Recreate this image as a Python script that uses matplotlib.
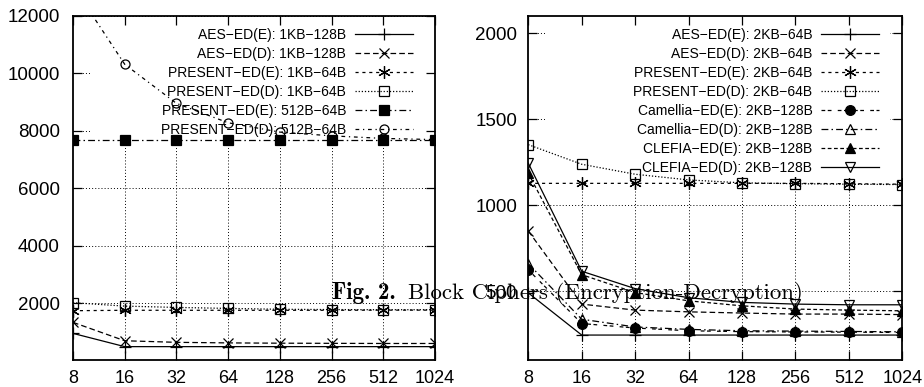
import matplotlib
matplotlib.use("Agg")
import matplotlib.pyplot as plt
from matplotlib.patches import Rectangle
import numpy as np

# ---------------- data ----------------
block_sizes = [8, 16, 32, 64, 128, 256, 512, 1024]
tick_labels = ["8", "16", "32", "64", "128", "256", "512", "1024"]

# left panel
aes_e_1kb = [956, 495, 495, 495, 495, 495, 495, 495]
aes_d_1kb = [1340, 700, 645, 625, 615, 610, 605, 605]
present_e_1kb = [1745, 1760, 1760, 1760, 1760, 1760, 1765, 1765]
present_d_1kb = [2025, 1905, 1860, 1825, 1795, 1785, 1780, 1780]
present_e_512 = [7680, 7680, 7680, 7680, 7680, 7680, 7680, 7680]
present_d_512 = [13050, 10320, 8960, 8285, 7960, 7830, 7740, 7700]

left_labels = ["AES−ED(E): 1KB−128B", "AES−ED(D): 1KB−128B",
               "PRESENT−ED(E): 1KB−64B", "PRESENT−ED(D): 1KB−64B",
               "PRESENT−ED(E): 512B−64B", "PRESENT−ED(D): 512B−64B"]
left_yticks = [2000, 4000, 6000, 8000, 10000, 12000]

# right panel
aes_e_2kb = [490, 245, 245, 245, 245, 245, 245, 245]
aes_d_2kb = [850, 425, 390, 380, 373, 367, 367, 364]
present_e_2kb = [1127, 1127, 1127, 1127, 1127, 1127, 1125, 1122]
present_d_2kb = [1352, 1238, 1180, 1147, 1130, 1125, 1122, 1120]
camellia_e_2kb = [624, 312, 286, 270, 265, 263, 262, 260]
camellia_d_2kb = [660, 337, 292, 278, 270, 268, 266, 264]
clefia_e_2kb = [1185, 596, 492, 444, 415, 396, 390, 386]
clefia_d_2kb = [1244, 616, 515, 462, 435, 425, 421, 421]

right_labels = ["AES−ED(E): 2KB−64B", "AES−ED(D): 2KB−64B",
                "PRESENT−ED(E): 2KB−64B", "PRESENT−ED(D): 2KB−64B",
                "Camellia−ED(E): 2KB−128B", "Camellia−ED(D): 2KB−128B",
                "CLEFIA−ED(E): 2KB−128B", "CLEFIA−ED(D): 2KB−128B"]
right_yticks = [500, 1000, 1500, 2000]

caption_bold = "Fig. 2."
caption_text = "Block Ciphers (Encryption-Decryption)"

# ---------------- styles ----------------
SOLID = "-"
DASH = (0, (4.5, 2.5))
SHORT = (0, (2.5, 3))
DOT = (0, (1, 1.5))
DASHDOT = (0, (5.5, 2.5, 1.2, 2.5))
DASHDOTDOT = (0, (3, 3, 1, 3))
CAM_E = (0, (3, 2, 3, 5))
CLE_E = (0, (3, 2))

plt.rcParams["font.family"] = ["Liberation Sans", "DejaVu Sans"]

fig = plt.figure(figsize=(9.24, 3.87), dpi=100)
axL = fig.add_axes([73 / 924, 27 / 387, 362 / 924, 344 / 387])
axR = fig.add_axes([528.3 / 924, 27 / 387, 374 / 924, 344 / 387])


def style_axis(ax, yticks, ylim, ypad, key_box):
    ax.set_xscale("log", base=2)
    ax.set_xlim(block_sizes[0], block_sizes[-1])
    ax.set_ylim(*ylim)
    ax.set_xticks(block_sizes)
    ax.set_xticklabels(tick_labels)
    ax.minorticks_off()
    ax.set_yticks(yticks)
    ax.set_yticklabels([str(v) for v in yticks])
    ax.tick_params(direction="in", length=6.5, width=0.9, top=True, right=True,
                   colors="black")
    ax.tick_params(axis="x", pad=7.5, labelsize=13)
    ax.tick_params(axis="y", pad=ypad, labelsize=13.5)
    for s in ax.spines.values():
        s.set_linewidth(1.3)
    # dotted grid
    ax.hlines(yticks, block_sizes[0], block_sizes[-1], colors="black",
              linestyles=(0, (1, 2.2)), linewidth=0.7, zorder=0.5)
    ax.vlines(block_sizes[1:-1], ylim[0], ylim[1], colors="black",
              linestyles=(0, (1, 2.2)), linewidth=0.7, zorder=0.5)
    # opaque key area (grid hidden behind key like gnuplot)
    x0, y0, x1, y1 = key_box
    ax.add_patch(Rectangle((x0, y0), x1 - x0, y1 - y0, transform=ax.transAxes,
                           facecolor="white", edgecolor="none", zorder=1))


style_axis(axL, left_yticks, (30, 12000), 9.4, (0.047, 0.637, 0.986, 0.997))
style_axis(axR, right_yticks, (100, 2100), 8.0, (0.045, 0.515, 0.967, 0.997))

lw = 0.9
kw = dict(color="black", linewidth=lw, markeredgewidth=0.9, zorder=2, clip_on=True)

# left panel lines
axL.plot(block_sizes, aes_e_1kb, linestyle=SOLID, marker="+", markersize=9, label=left_labels[0], **kw)
axL.plot(block_sizes, aes_d_1kb, linestyle=DASH, marker="x", markersize=7, label=left_labels[1], **kw)
axL.plot(block_sizes, present_e_1kb, linestyle=SHORT, marker=(6, 2, 0), markersize=9, label=left_labels[2], **kw)
axL.plot(block_sizes, present_d_1kb, linestyle=DOT, marker="s", markersize=7, mfc="none", label=left_labels[3], **kw)
axL.plot(block_sizes, present_e_512, linestyle=DASHDOT, marker="s", markersize=7.5, mfc="black", label=left_labels[4], **kw)
axL.plot(block_sizes, present_d_512, linestyle=DASHDOTDOT, marker="o", markersize=6.5, mfc="none", label=left_labels[5], **kw)

# right panel lines
axR.plot(block_sizes, aes_e_2kb, linestyle=SOLID, marker="+", markersize=9, label=right_labels[0], **kw)
axR.plot(block_sizes, aes_d_2kb, linestyle=DASH, marker="x", markersize=7, label=right_labels[1], **kw)
axR.plot(block_sizes, present_e_2kb, linestyle=SHORT, marker=(6, 2, 0), markersize=9, label=right_labels[2], **kw)
axR.plot(block_sizes, present_d_2kb, linestyle=DOT, marker="s", markersize=7, mfc="none", label=right_labels[3], **kw)
axR.plot(block_sizes, camellia_e_2kb, linestyle=CAM_E, marker="o", markersize=7, mfc="black", label=right_labels[4], **kw)
axR.plot(block_sizes, camellia_d_2kb, linestyle=DASHDOT, marker="^", markersize=7, mfc="none", label=right_labels[5], **kw)
axR.plot(block_sizes, clefia_e_2kb, linestyle=CLE_E, marker="^", markersize=7, mfc="black", label=right_labels[6], **kw)
axR.plot(block_sizes, clefia_d_2kb, linestyle=SOLID, marker="v", markersize=7, mfc="none", label=right_labels[7], **kw)

leg_kw = dict(frameon=False, markerfirst=False, numpoints=1, fontsize=10,
              handlelength=4.2, handletextpad=0.6, labelspacing=0.36,
              borderpad=0, borderaxespad=0, loc="upper right")
legL = axL.legend(bbox_to_anchor=(0.939, 0.966), **leg_kw)
legR = axR.legend(bbox_to_anchor=(0.938, 0.966), **leg_kw)
for lg in (legL, legR):
    lg.set_zorder(3)

# caption (overlapping, as in the reference)
cap_size = 16.5
tb = fig.text(332 / 924, 1 - 299 / 387, caption_bold, family="cmb10", fontsize=cap_size,
              va="baseline", ha="left", zorder=10)
fig.canvas.draw()
r = fig.canvas.get_renderer()
bb = tb.get_window_extent(r)
fig.text((bb.x1 + 12) / 924, 1 - 299 / 387, caption_text, family="cmr10", fontsize=cap_size,
         va="baseline", ha="left", zorder=10)

fig.savefig("out.png", dpi=100)
